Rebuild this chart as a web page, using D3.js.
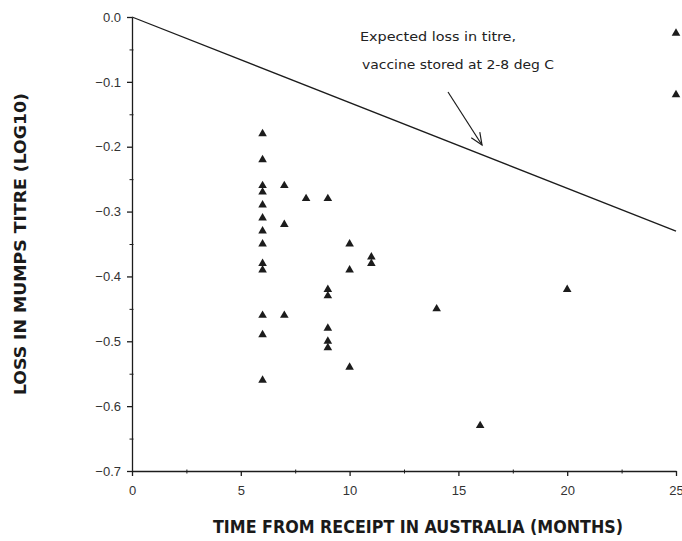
<!DOCTYPE html>
<html lang="en">
<head>
<meta charset="UTF-8">
<title>Loss in mumps titre vs time</title>
<script src="https://d3js.org/d3.v7.min.js"></script>
<style>
  body { margin: 0; background: #fff; }
  svg { display: block; }
  .tick text { font-family: "Liberation Sans", Arial, sans-serif; font-size: 13px; fill: #333; }
  .title { font-family: "DejaVu Sans Condensed", "DejaVu Sans", sans-serif; font-weight: bold; font-size: 15px; fill: #1a1a1a; }
  .note { font-family: "DejaVu Sans Condensed", "DejaVu Sans", sans-serif; font-size: 12px; fill: #222; }
</style>
</head>
<body>
<svg></svg>
<script>
// months since receipt, and log10 loss in titre
const months = [6, 6, 6, 6, 6, 6, 6, 6, 6, 6, 6, 6, 6,
                7, 7, 7, 8,
                9, 9, 9, 9, 9, 9,
                10, 10, 10, 11, 11,
                14, 16, 20, 25, 25];
const loss = [-0.18, -0.22, -0.26, -0.27, -0.29, -0.31, -0.33, -0.35, -0.38, -0.39, -0.46, -0.49, -0.56,
              -0.26, -0.32, -0.46, -0.28,
              -0.28, -0.42, -0.43, -0.48, -0.50, -0.51,
              -0.35, -0.39, -0.54, -0.37, -0.38,
              -0.45, -0.63, -0.42, -0.025, -0.12];

// expected loss, vaccine stored at 2-8 deg C
const expMonths = [0, 25];
const expLoss = [0, -0.33];

const xTicks = [0, 5, 10, 15, 20, 25];
const yTicks = [0, -0.1, -0.2, -0.3, -0.4, -0.5, -0.6, -0.7];

const W = 682, H = 541;
const svg = d3.select("svg").attr("width", W).attr("height", H);

const x = d3.scaleLinear().domain([0, 25]).range([132, 676]);
const y = d3.scaleLinear().domain([0, -0.7]).range([17, 471]);

const ink = "#1c1c1c";

// minor ticks (small marks across the axis line)
svg.append("g")
    .attr("transform", `translate(0,${y(-0.7) - 1.5})`)
    .call(d3.axisBottom(x).tickValues(d3.range(2.5, 25, 5)).tickSize(4).tickFormat(""))
    .call(g => g.select(".domain").remove())
    .call(g => g.selectAll("line").attr("stroke", ink));
svg.append("g")
    .attr("transform", `translate(${x(0) + 1.5},0)`)
    .call(d3.axisLeft(y).tickValues(d3.range(-0.05, -0.7, -0.1)).tickSize(4).tickFormat(""))
    .call(g => g.select(".domain").remove())
    .call(g => g.selectAll("line").attr("stroke", ink));

// major axes
svg.append("g")
    .attr("transform", `translate(0,${y(-0.7)})`)
    .call(d3.axisBottom(x).tickValues(xTicks).tickSize(5).tickSizeOuter(0).tickPadding(10).tickFormat(d3.format("d")))
    .call(g => g.selectAll("line, .domain").attr("stroke", ink).attr("stroke-width", 1.3));

svg.append("g")
    .attr("transform", `translate(${x(0)},0)`)
    .call(d3.axisLeft(y).tickValues(yTicks).tickSize(5).tickSizeOuter(0).tickPadding(6).tickFormat(d3.format(".1f")))
    .call(g => g.selectAll("line, .domain").attr("stroke", ink).attr("stroke-width", 1.3));

// expected loss line
svg.append("path")
    .datum(expMonths.map((m, i) => [m, expLoss[i]]))
    .attr("fill", "none")
    .attr("stroke", ink)
    .attr("stroke-width", 1.3)
    .attr("d", d3.line().x(d => x(d[0])).y(d => y(d[1])));

// points
svg.append("g")
    .selectAll("path")
    .data(months.map((m, i) => [m, loss[i]]))
    .join("path")
    .attr("transform", d => `translate(${x(d[0])},${y(d[1])})`)
    .attr("d", d3.symbol(d3.symbolTriangle, 32))
    .attr("fill", ink);

// annotation
svg.append("text").attr("class", "note").attr("x", 360).attr("y", 41)
    .attr("textLength", 156).attr("lengthAdjust", "spacingAndGlyphs")
    .text("Expected loss in titre,");
svg.append("text").attr("class", "note").attr("x", 362).attr("y", 69)
    .attr("textLength", 192).attr("lengthAdjust", "spacingAndGlyphs")
    .text("vaccine stored at 2-8 deg C");

const ax0 = 448, ay0 = 92, ax1 = 482, ay1 = 145;
svg.append("line")
    .attr("x1", ax0).attr("y1", ay0).attr("x2", ax1).attr("y2", ay1)
    .attr("stroke", ink).attr("stroke-width", 1.2);
const ang = Math.atan2(ay1 - ay0, ax1 - ax0);
const head = 13, spread = 0.4;
svg.append("path")
    .attr("d", `M${ax1 - head * Math.cos(ang - spread)},${ay1 - head * Math.sin(ang - spread)}L${ax1},${ay1}L${ax1 - head * Math.cos(ang + spread)},${ay1 - head * Math.sin(ang + spread)}`)
    .attr("fill", "none").attr("stroke", ink).attr("stroke-width", 1.2);

// axis titles
svg.append("text").attr("class", "title")
    .attr("transform", "translate(26,244) rotate(-90)")
    .attr("text-anchor", "middle")
    .attr("textLength", 302).attr("lengthAdjust", "spacingAndGlyphs")
    .text("LOSS IN MUMPS TITRE (LOG10)");
svg.append("text").attr("class", "title")
    .attr("x", 418).attr("y", 533)
    .attr("text-anchor", "middle")
    .attr("textLength", 410).attr("lengthAdjust", "spacingAndGlyphs")
    .style("font-size", "17px")
    .text("TIME FROM RECEIPT IN AUSTRALIA (MONTHS)");
</script>
</body>
</html>
